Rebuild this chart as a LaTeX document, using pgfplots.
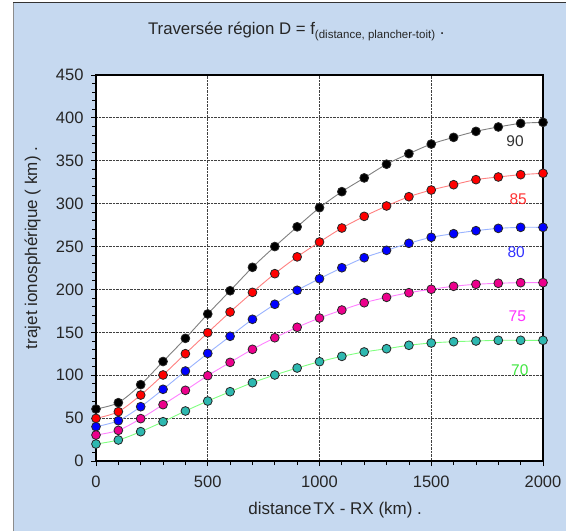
\documentclass[border=0pt]{standalone}
\usepackage{pgfplots}
\pgfplotsset{compat=1.18}
\usepackage{pgfplotstable}
\usepackage{fontspec}
\setmainfont{Liberation Sans}
\definecolor{bgblue}{RGB}{198,217,240}
\definecolor{lgray}{RGB}{128,128,128}
\definecolor{lred}{RGB}{255,128,128}
\definecolor{lblue}{RGB}{153,179,255}
\definecolor{lmag}{RGB}{255,128,255}
\definecolor{lgreen}{RGB}{128,255,128}
\definecolor{teal2}{RGB}{46,184,176}
\definecolor{lab90}{RGB}{51,51,51}
\definecolor{lab85}{RGB}{255,51,51}
\definecolor{lab80}{RGB}{51,51,255}
\definecolor{lab75}{RGB}{255,51,255}
\definecolor{lab70}{RGB}{64,230,64}
\pgfplotstableread{
x a90 a85 a80 a75 a70
0 60.6 49.7 40.0 30.3 19.8
100 68.0 57.5 47.0 35.7 24.5
200 89.0 76.9 63.3 49.4 34.2
300 116.0 100.3 83.6 65.7 45.8
400 143.0 125.1 104.9 82.4 58.3
500 171.4 149.6 125.5 99.5 69.9
600 198.5 173.7 145.4 115.0 80.8
700 225.8 196.6 165.2 130.2 91.3
800 250.0 218.4 182.7 143.7 100.3
900 273.0 238.0 199.0 155.9 108.4
1000 295.3 255.3 212.5 166.7 115.8
1100 314.0 271.6 225.3 176.0 122.0
1200 330.0 285.2 237.0 184.5 127.1
1300 346.0 297.3 245.6 190.8 130.9
1400 358.3 308.1 253.8 196.2 134.9
1500 369.5 315.9 260.8 200.2 137.6
1600 377.3 322.1 265.0 203.7 139.1
1700 384.3 328.0 268.5 206.0 139.9
1800 389.4 331.1 271.2 207.2 140.7
1900 393.6 333.8 272.4 207.9 140.7
2000 394.8 335.4 272.4 207.9 140.7
}\data
\begin{document}
\begin{tikzpicture}
\fill[white] (0pt,0pt) rectangle (567pt,531pt);
\fill[bgblue] (14pt,0pt) rectangle (566pt,528pt);
\draw[black!45, line width=1.2pt] (13.6pt,0pt) -- (13.6pt,528pt);
\draw[black!80, line width=1pt] (13pt,528.5pt) -- (566pt,528.5pt);
\begin{axis}[
  at={(96pt,70pt)}, anchor=south west,
  scale only axis, width=447pt, height=386pt,
  axis background/.style={fill=white},
  xmin=0, xmax=2000, ymin=0, ymax=450,
  xtick={0,500,...,2000}, ytick={0,50,...,450},
  minor x tick num=4, minor y tick num=4,
  grid=major,
  major grid style={densely dotted, black!75, line width=0.8pt},
  tick align=outside, tick pos=left,
  major tick length=5pt, minor tick length=4pt,
  axis line style={black, line width=1.4pt},
  every tick/.style={black, line width=0.8pt},
  ticklabel style={font=\fontsize{16.5}{19}\selectfont, text=black!85},
  xticklabel style={yshift=-6pt},
  yticklabel style={xshift=-4pt},
  /pgf/number format/assume math mode=true,
  /pgf/number format/set thousands separator={},
  scaled ticks=false,
  clip=false,
  every axis plot/.append style={smooth, line width=0.9pt},
]
\addplot[color=lgray, mark=*, mark size=4.4pt, mark options={solid, fill=black, draw=black!85, line width=0.8pt}] table[x=x,y=a90]{\data};
\addplot[color=lred, mark=*, mark size=4.4pt, mark options={solid, fill=red, draw=black!85, line width=0.8pt}] table[x=x,y=a85]{\data};
\addplot[color=lblue, mark=*, mark size=4.4pt, mark options={solid, fill=blue, draw=black!85, line width=0.8pt}] table[x=x,y=a80]{\data};
\addplot[color=lmag, mark=*, mark size=4.4pt, mark options={solid, fill=magenta, draw=black!85, line width=0.8pt}] table[x=x,y=a75]{\data};
\addplot[color=lgreen, mark=*, mark size=4.4pt, mark options={solid, fill=teal2, draw=black!85, line width=0.8pt}] table[x=x,y=a70]{\data};
\node[text=lab90, font=\fontsize{15.5}{18}\selectfont] at (axis cs:1875,373) {90};
\node[text=lab85, font=\fontsize{15.5}{18}\selectfont] at (axis cs:1889,305) {85};
\node[text=lab80, font=\fontsize{15.5}{18}\selectfont] at (axis cs:1880,243) {80};
\node[text=lab75, font=\fontsize{15.5}{18}\selectfont] at (axis cs:1885,169) {75};
\node[text=lab70, font=\fontsize{15.5}{18}\selectfont] at (axis cs:1896,106) {70};
\node[text=black!85, font=\fontsize{16.8}{19}\selectfont] at (axis description cs:0.448,1.112) {Traversée région D = f\raisebox{-0.4ex}{\fontsize{11.5}{13}\selectfont (distance, plancher-toit)} .};
\node[text=black!85, font=\fontsize{17}{19}\selectfont] at (axis description cs:0.535,-0.127) {distance\kern0.1em TX - RX (km) .};
\node[text=black!85, font=\fontsize{17}{19}\selectfont, rotate=90] at (axis description cs:-0.142,0.552) {trajet ionosphérique ( km) .};
\end{axis}
\pgfresetboundingbox
\useasboundingbox (0pt,0pt) rectangle (567pt,531pt);
\end{tikzpicture}
\end{document}
